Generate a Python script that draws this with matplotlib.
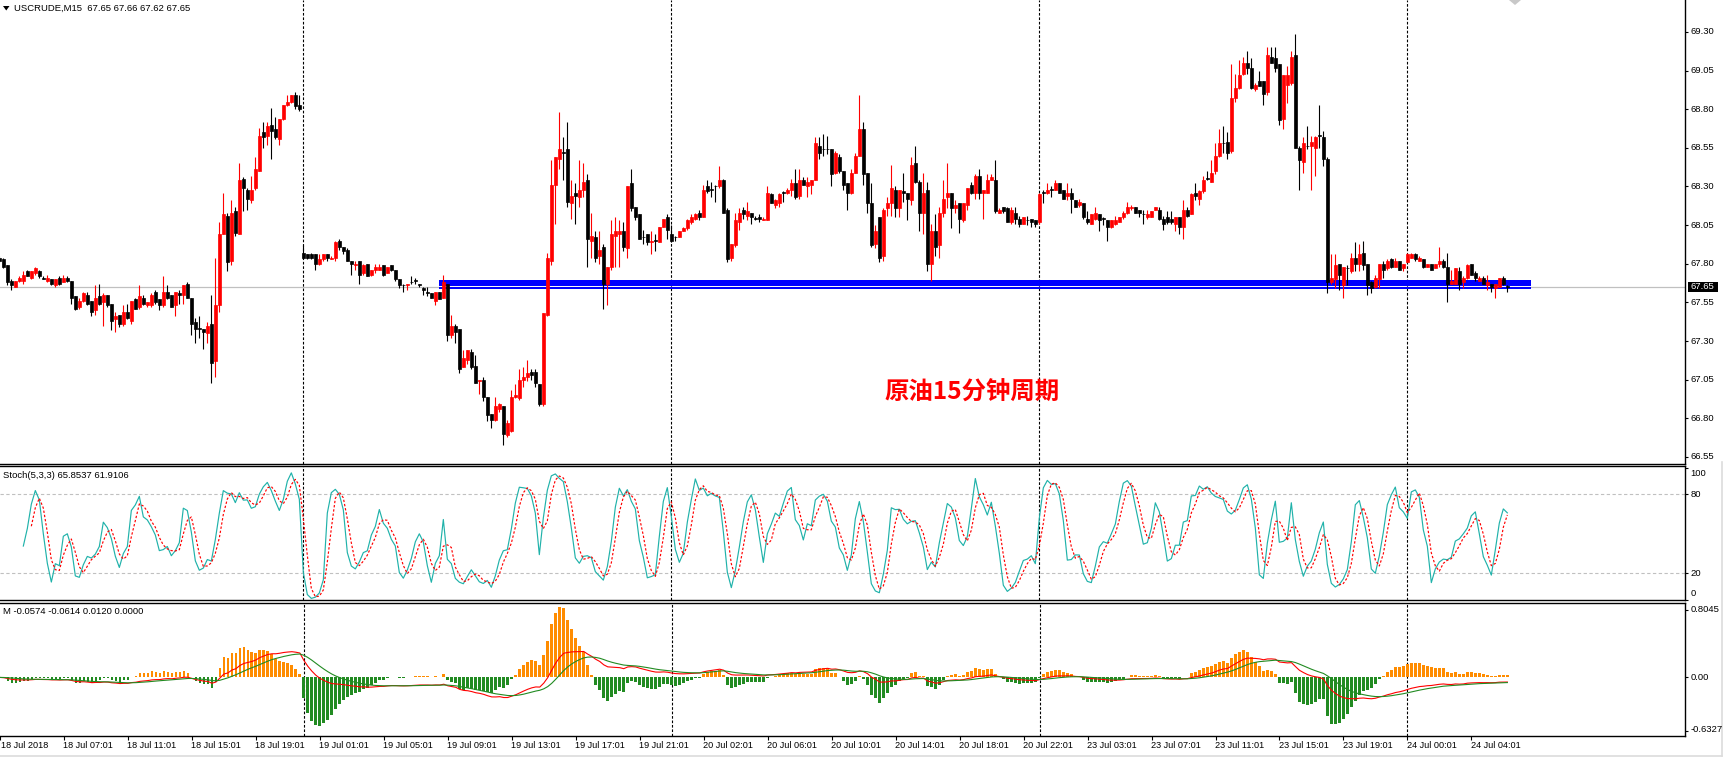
import numpy as np
import matplotlib
matplotlib.use("Agg")
import matplotlib.pyplot as plt
from matplotlib.patches import Polygon, Rectangle
from matplotlib.lines import Line2D

plt.rcParams['font.family'] = ['Liberation Sans', 'DejaVu Sans']

# ---------------- data (USCRUDE M15 candles) ----------------
opens = [67.84,67.83,67.79,67.69,67.65,67.69,67.69,67.75,67.71,67.74,67.75,67.71,67.69,67.70,67.66,67.71,67.68,67.71,67.69,67.59,
67.52,67.56,67.60,67.56,67.50,67.59,67.55,67.60,67.54,67.44,67.47,67.41,67.49,67.43,67.57,67.52,67.58,67.53,67.53,67.62,
67.57,67.53,67.62,67.60,67.53,67.61,67.60,67.67,67.58,67.42,67.38,67.38,67.35,67.41,67.17,67.53,67.99,68.11,67.82,68.14,
67.99,68.35,68.28,68.21,68.29,68.40,68.65,68.63,68.70,68.67,68.61,68.74,68.83,68.85,68.89,68.83,67.87,67.86,67.86,67.86,
67.80,67.83,67.86,67.83,67.84,67.95,67.91,67.89,67.82,67.79,67.82,67.74,67.80,67.73,67.76,67.76,67.79,67.74,67.79,67.76,
67.70,67.66,67.66,67.68,67.69,67.67,67.64,67.62,67.61,67.56,67.62,67.58,67.67,67.34,67.40,67.38,67.13,67.18,67.23,67.14,
67.04,67.05,66.94,66.83,66.79,66.86,66.88,66.69,66.72,66.94,66.93,67.05,67.07,67.10,67.10,67.02,66.89,67.47,67.82,68.31,
68.48,68.52,68.54,68.19,68.26,68.23,68.28,68.34,67.95,67.97,67.85,67.91,67.67,67.78,67.98,67.99,68.01,67.90,68.32,68.17,
68.12,67.97,67.99,67.94,67.95,67.94,68.04,68.10,67.99,67.97,67.97,68.01,68.03,68.07,68.09,68.13,68.10,68.30,68.28,68.30,
68.30,68.34,68.15,67.84,67.92,68.07,68.15,68.11,68.13,68.09,68.10,68.08,68.08,68.25,68.18,68.19,68.26,68.26,68.28,68.32,
68.24,68.34,68.30,68.31,68.34,68.56,68.54,68.54,68.54,68.39,68.49,68.40,68.32,68.26,68.39,68.50,68.67,68.39,68.19,67.93,
68.10,67.85,68.16,68.19,68.28,68.16,68.27,68.26,68.21,68.45,68.33,68.13,68.28,67.80,68.01,67.92,68.13,68.23,68.26,68.16,
68.19,68.08,68.18,68.31,68.26,68.37,68.26,68.26,68.34,68.34,68.13,68.17,68.16,68.07,68.13,68.09,68.06,68.08,68.09,68.08,
68.07,68.26,68.26,68.28,68.28,68.32,68.28,68.24,68.26,68.21,68.18,68.19,68.09,68.06,68.09,68.12,68.09,68.08,68.04,68.06,
68.07,68.10,68.13,68.16,68.17,68.15,68.12,68.10,68.10,68.15,68.15,68.09,68.10,68.09,68.06,68.10,68.04,68.15,68.12,68.26,
68.22,68.27,68.35,68.33,68.40,68.50,68.58,68.59,68.53,68.87,68.94,69.03,69.10,69.07,68.93,68.98,68.98,68.91,69.14,69.13,
69.09,68.74,68.96,68.97,69.15,68.55,68.46,68.56,68.56,68.55,68.63,68.62,68.48,67.68,67.70,67.80,67.66,67.77,67.75,67.84,
67.80,67.87,67.80,67.68,67.65,67.70,67.80,67.77,67.83,67.78,67.82,67.77,67.81,67.84,67.86,67.82,67.83,67.78,67.80,67.77,
67.80,67.82,67.78,67.67,67.67,67.75,67.68,67.71,67.80,67.74,67.69,67.71,67.66,67.67,67.64,67.65,67.71,67.65]

highs = [67.85,67.84,67.79,67.70,67.69,67.72,67.75,67.76,67.75,67.78,67.76,67.72,67.73,67.70,67.70,67.72,67.73,67.72,67.69,67.59,
67.58,67.62,67.62,67.56,67.66,67.67,67.61,67.60,67.54,67.49,67.47,67.53,67.54,67.56,67.58,67.66,67.60,67.55,67.61,67.63,
67.57,67.72,67.66,67.60,67.62,67.63,67.66,67.68,67.58,67.45,67.46,67.38,67.42,67.60,67.84,68.07,68.26,68.13,68.21,68.17,
68.45,68.36,68.29,68.37,68.49,68.68,68.72,68.72,68.81,68.75,68.74,68.83,68.89,68.89,68.91,68.89,67.92,67.86,67.87,67.86,
67.86,67.86,67.86,67.85,67.95,67.96,67.91,67.90,67.82,67.82,67.82,67.80,67.80,67.76,67.80,67.80,67.79,67.78,67.79,67.76,
67.70,67.67,67.67,67.72,67.71,67.67,67.65,67.65,67.61,67.62,67.62,67.73,67.67,67.47,67.41,67.38,67.24,67.24,67.25,67.21,
67.05,67.07,66.94,66.83,66.94,66.90,66.88,66.79,66.98,67.02,67.12,67.13,67.18,67.12,67.12,67.02,67.48,67.87,68.47,68.49,
68.78,68.62,68.72,68.34,68.32,68.47,68.45,68.38,68.13,68.01,68.01,67.93,67.78,68.08,68.10,68.08,68.07,68.30,68.41,68.17,
68.12,68.02,67.99,68.01,67.99,68.04,68.09,68.12,68.05,67.98,68.01,68.04,68.09,68.12,68.13,68.15,68.31,68.34,68.33,68.31,
68.43,68.35,68.16,67.93,68.13,68.16,68.17,68.20,68.13,68.11,68.12,68.10,68.30,68.26,68.22,68.26,68.27,68.29,68.35,68.41,
68.41,68.36,68.36,68.34,68.62,68.62,68.64,68.63,68.54,68.53,68.51,68.40,68.32,68.41,68.52,68.89,68.72,68.39,68.32,68.05,
68.10,68.16,68.23,68.44,68.30,68.28,68.39,68.26,68.49,68.56,68.34,68.39,68.33,68.06,68.12,68.17,68.34,68.45,68.26,68.21,
68.19,68.19,68.29,68.33,68.38,68.41,68.28,68.38,68.38,68.47,68.16,68.17,68.17,68.17,68.17,68.11,68.10,68.11,68.09,68.08,
68.26,68.28,68.32,68.30,68.34,68.32,68.28,68.32,68.29,68.21,68.22,68.19,68.14,68.12,68.17,68.12,68.10,68.08,68.08,68.11,
68.10,68.14,68.20,68.18,68.17,68.15,68.15,68.15,68.14,68.17,68.17,68.11,68.14,68.14,68.10,68.10,68.21,68.17,68.26,68.32,
68.28,68.37,68.40,68.47,68.58,68.67,68.69,68.65,69.09,69.03,69.12,69.14,69.18,69.13,68.97,69.05,68.98,69.20,69.20,69.20,
69.09,69.02,69.08,69.18,69.29,68.56,68.62,68.69,68.63,68.63,68.83,68.66,68.49,67.86,67.86,67.80,67.78,67.79,67.87,67.94,
67.93,67.95,67.80,67.69,67.73,67.80,67.82,67.83,67.84,67.84,67.82,67.80,67.87,67.87,67.87,67.85,67.83,67.80,67.80,67.80,
67.91,67.83,67.87,67.76,67.77,67.78,67.72,67.80,67.80,67.75,67.72,67.72,67.73,67.67,67.67,67.71,67.72,67.66]

lows = [67.81,67.77,67.66,67.63,67.65,67.68,67.67,67.72,67.70,67.73,67.71,67.70,67.68,67.66,67.65,67.66,67.68,67.68,67.54,67.50,
67.51,67.55,67.53,67.46,67.47,67.53,67.40,67.52,67.37,67.36,67.39,67.40,67.44,67.41,67.51,67.51,67.53,67.52,67.52,67.54,
67.50,67.52,67.57,67.52,67.46,67.54,67.54,67.58,67.34,67.29,67.32,67.25,67.29,67.03,67.07,67.49,67.99,67.75,67.79,67.98,
67.99,68.14,68.15,68.19,68.28,68.40,68.55,68.57,68.48,68.61,68.57,68.73,68.82,68.84,68.80,68.79,67.83,67.83,67.83,67.76,
67.79,67.82,67.82,67.83,67.82,67.89,67.86,67.82,67.73,67.76,67.67,67.73,67.72,67.72,67.74,67.76,67.72,67.74,67.75,67.69,
67.64,67.62,67.63,67.67,67.67,67.65,67.60,67.59,67.58,67.53,67.57,67.58,67.30,67.32,67.29,67.09,67.13,67.15,67.12,67.03,
66.96,66.91,66.78,66.74,66.78,66.84,66.63,66.68,66.71,66.93,66.92,67.00,67.04,67.05,67.00,66.88,66.88,67.46,67.79,68.06,
68.41,68.34,68.17,68.09,68.06,68.17,68.23,67.78,67.84,67.81,67.80,67.51,67.53,67.76,67.78,67.78,67.88,67.84,68.14,68.08,
67.96,67.93,67.92,67.86,67.88,67.94,68.04,67.96,67.94,67.95,67.97,68.01,68.02,68.06,68.08,68.08,68.10,68.26,68.23,68.20,
68.29,68.13,67.81,67.82,67.91,68.02,68.09,68.08,68.06,68.08,68.07,68.08,68.08,68.19,68.16,68.17,68.20,68.25,68.24,68.22,
68.22,68.31,68.23,68.25,68.34,68.48,68.50,68.51,68.30,68.38,68.39,68.28,68.15,68.25,68.39,68.50,68.31,68.13,67.91,67.90,
67.81,67.82,68.11,68.11,68.10,68.10,68.20,68.08,68.18,68.32,68.01,67.99,67.75,67.69,67.85,67.84,68.10,68.16,68.03,68.13,
68.00,68.07,68.15,68.25,68.22,68.22,68.09,68.26,68.34,68.13,68.13,68.13,68.07,68.06,68.06,68.04,68.06,68.05,68.04,68.04,
68.06,68.19,68.25,68.23,68.28,68.26,68.22,68.21,68.13,68.17,68.17,68.09,68.06,68.06,68.08,68.01,68.05,67.95,68.03,68.05,
68.07,68.09,68.12,68.15,68.13,68.10,68.06,68.09,68.10,68.15,68.08,68.02,68.06,68.06,68.01,67.99,67.96,68.10,68.12,68.21,
68.18,68.26,68.34,68.33,68.38,68.49,68.52,68.48,68.52,68.85,68.93,69.02,69.03,68.93,68.92,68.95,68.83,68.89,69.10,69.04,
68.70,68.67,68.84,68.96,68.55,68.28,68.39,68.54,68.28,68.37,68.55,68.43,67.61,67.67,67.64,67.63,67.58,67.66,67.74,67.75,
67.75,67.76,67.60,67.61,67.64,67.64,67.71,67.76,67.77,67.78,67.76,67.75,67.81,67.84,67.82,67.82,67.77,67.78,67.76,67.77,
67.78,67.77,67.55,67.67,67.67,67.63,67.64,67.70,67.73,67.69,67.69,67.67,67.63,67.62,67.58,67.65,67.66,67.62]

closes = [67.82,67.78,67.68,67.66,67.69,67.71,67.73,67.72,67.75,67.77,67.72,67.70,67.71,67.67,67.70,67.67,67.71,67.69,67.58,67.51,
67.56,67.61,67.54,67.49,67.58,67.54,67.60,67.53,67.43,67.46,67.41,67.49,67.45,67.56,67.51,67.59,67.54,67.55,67.60,67.55,
67.53,67.62,67.58,67.52,67.62,67.60,67.66,67.58,67.41,67.38,67.38,67.36,67.40,67.16,67.53,67.99,68.12,67.81,68.13,68.00,
68.34,68.29,68.22,68.28,68.41,68.63,68.62,68.69,68.66,68.62,68.74,68.83,68.85,68.89,68.82,68.80,67.84,67.84,67.84,67.80,
67.83,67.86,67.84,67.84,67.94,67.91,67.88,67.82,67.80,67.80,67.73,67.79,67.72,67.76,67.78,67.78,67.73,67.78,67.76,67.70,
67.66,67.66,67.67,67.68,67.69,67.66,67.63,67.61,67.58,67.62,67.57,67.68,67.34,67.40,67.36,67.12,67.19,67.24,67.13,67.03,
67.05,66.94,66.82,66.79,66.88,66.89,66.70,66.77,66.94,66.95,67.05,67.07,67.09,67.08,67.03,66.89,67.48,67.84,68.31,68.49,
68.54,68.52,68.20,68.24,68.24,68.28,68.33,67.96,67.98,67.84,67.89,67.67,67.78,67.99,68.01,68.01,67.91,68.30,68.16,68.10,
67.96,67.97,67.94,67.95,67.95,68.04,68.09,68.02,67.95,67.97,68.01,68.03,68.08,68.10,68.12,68.10,68.28,68.27,68.28,68.30,
68.34,68.13,67.83,67.93,68.08,68.13,68.12,68.14,68.10,68.09,68.09,68.09,68.26,68.19,68.21,68.25,68.26,68.28,68.32,68.23,
68.34,68.31,68.33,68.34,68.58,68.52,68.54,68.54,68.38,68.52,68.40,68.31,68.26,68.39,68.50,68.67,68.38,68.19,67.92,68.01,
67.84,68.15,68.19,68.29,68.16,68.28,68.26,68.22,68.44,68.33,68.13,68.26,67.80,68.01,67.91,68.13,68.22,68.26,68.16,68.18,
68.09,68.19,68.29,68.26,68.37,68.26,68.28,68.34,68.36,68.14,68.15,68.14,68.07,68.15,68.09,68.06,68.10,68.08,68.07,68.06,
68.25,68.26,68.28,68.28,68.32,68.26,68.22,68.26,68.22,68.17,68.20,68.10,68.07,68.12,68.13,68.08,68.09,68.04,68.08,68.08,
68.10,68.13,68.17,68.17,68.13,68.13,68.12,68.12,68.14,68.17,68.09,68.06,68.07,68.07,68.10,68.04,68.15,68.11,68.25,68.24,
68.27,68.34,68.35,68.39,68.50,68.58,68.58,68.52,68.87,68.94,69.02,69.10,69.07,68.94,68.96,68.95,68.90,69.15,69.10,69.07,
68.73,69.02,69.02,69.14,68.55,68.47,68.58,68.56,68.59,68.62,68.63,68.48,67.68,67.71,67.79,67.73,67.78,67.77,67.84,67.80,
67.86,67.79,67.66,67.64,67.71,67.80,67.76,67.82,67.78,67.82,67.76,67.80,67.86,67.86,67.83,67.84,67.78,67.80,67.76,67.80,
67.82,67.78,67.67,67.69,67.77,67.67,67.71,67.79,67.73,67.71,67.71,67.67,67.68,67.65,67.67,67.71,67.67,67.65]

price_ticks = [69.30, 69.05, 68.80, 68.55, 68.30, 68.05, 67.80, 67.55, 67.30, 67.05, 66.80, 66.55]
time_labels = ["18 Jul 2018", "18 Jul 07:01", "18 Jul 11:01", "18 Jul 15:01", "18 Jul 19:01",
               "19 Jul 01:01", "19 Jul 05:01", "19 Jul 09:01", "19 Jul 13:01", "19 Jul 17:01",
               "19 Jul 21:01", "20 Jul 02:01", "20 Jul 06:01", "20 Jul 10:01", "20 Jul 14:01",
               "20 Jul 18:01", "20 Jul 22:01", "23 Jul 03:01", "23 Jul 07:01", "23 Jul 11:01",
               "23 Jul 15:01", "23 Jul 19:01", "24 Jul 00:01", "24 Jul 04:01"]
label_every = 16
day_separators = [76, 168, 260, 352]
current_price = 67.65
zone_thick = (67.658, 67.695)
zone_thin = (67.639, 67.650)
zone_start = 110
stoch_params = (5, 3, 3)
macd_params = (12, 26, 9)
hist_scale = 4.0

O = np.array(opens); Hh = np.array(highs); Lw = np.array(lows); C = np.array(closes)
n = len(C)
idx = np.arange(n)

# ---------------- indicators ----------------
kp, dp, slow = stoch_params
LL = np.full(n, np.nan); HH = np.full(n, np.nan)
for i in range(kp - 1, n):
    LL[i] = Lw[i - kp + 1:i + 1].min()
    HH[i] = Hh[i - kp + 1:i + 1].max()
K = np.full(n, np.nan)
for i in range(kp - 1 + slow - 1, n):
    num = np.sum(C[i - slow + 1:i + 1] - LL[i - slow + 1:i + 1])
    den = np.sum(HH[i - slow + 1:i + 1] - LL[i - slow + 1:i + 1])
    K[i] = 100.0 * num / den if den > 0 else 100.0
D = np.full(n, np.nan)
for i in range(n):
    w = K[max(0, i - dp + 1):i + 1]
    if len(w) == dp and not np.isnan(w).any():
        D[i] = w.mean()

def ema(x, p):
    a = 2.0 / (p + 1)
    out = np.empty_like(x)
    out[0] = x[0]
    for i in range(1, len(x)):
        out[i] = a * x[i] + (1 - a) * out[i - 1]
    return out

f_, s_, g_ = macd_params
DIF = ema(C, f_) - ema(C, s_)
DEA = ema(DIF, g_)
HIST = hist_scale * (DIF - DEA)

# ---------------- figure ----------------
W, Hpx = 1726, 759
fig = plt.figure(figsize=(W / 100, Hpx / 100), dpi=100)
fig.patch.set_facecolor('white')

def rect(x0, y0, x1, y1):
    return [x0 / W, 1 - y1 / Hpx, (x1 - x0) / W, (y1 - y0) / Hpx]

def ftxt(x, y, s, **kw):
    return fig.text(x / W, 1 - y / Hpx, s, **kw)

XL = (0.1675, 421.42)
ax1 = fig.add_axes(rect(0, 0, 1685, 464))
ax2 = fig.add_axes(rect(0, 466, 1685, 600))
ax3 = fig.add_axes(rect(0, 603, 1685, 736))

for ax in (ax1, ax2, ax3):
    ax.set_xlim(*XL)
    ax.set_facecolor('white')
    ax.spines['left'].set_visible(False)
    for s in ax.spines.values():
        s.set_linewidth(1.0)
        s.set_color('black')
    ax.yaxis.tick_right()
    ax.tick_params(axis='y', which='both', direction='out', length=2.5, width=0.8,
                   labelright=False, labelleft=False, right=True, left=False)
    ax.tick_params(axis='x', which='both', bottom=False, labelbottom=False)
    for d in day_separators:
        ax.axvline(d, color='black', lw=0.8, ls=(0, (2.4, 1.6)), zorder=1)
ax1.spines['top'].set_visible(False)

# main candle panel
ax1.set_ylim(66.504, 69.507)
ax1.set_yticks(price_ticks)
ax1.axhline(current_price, color='#C0C0C0', lw=0.9, zorder=1)
ax1.add_patch(Rectangle((zone_start, zone_thick[0]), 383 - zone_start, zone_thick[1] - zone_thick[0],
                        facecolor='#0000FF', edgecolor='none', zorder=2))
ax1.add_patch(Rectangle((zone_start, zone_thin[0]), 383 - zone_start, zone_thin[1] - zone_thin[0],
                        facecolor='#0000FF', edgecolor='none', zorder=2))

up = C > O
cols = np.where(up, '#FF0000', '#000000')
ax1.vlines(idx, Lw, Hh, colors=cols, lw=0.8, zorder=3)
body_lo = np.minimum(O, C)
body_h = np.maximum(np.abs(C - O), 0.004)
ax1.bar(idx, body_h, bottom=body_lo, width=0.62, color=cols, edgecolor=cols, linewidth=0.5, zorder=4)

ftxt(972, 393, "原油15分钟周期", color='#FF0000', fontsize=17.6, fontweight='bold',
     family=['Noto Sans CJK SC', 'DejaVu Sans'], ha='center', va='center')

# title
fig.add_artist(Polygon([[3 / W, 1 - 6 / Hpx], [9.5 / W, 1 - 6 / Hpx], [6.25 / W, 1 - 10.5 / Hpx]],
                       closed=True, transform=fig.transFigure, facecolor='black', edgecolor='none'))
ftxt(14, 8.5, "USCRUDE,M15  67.65 67.66 67.62 67.65", fontsize=6.8, ha='left', va='center', color='black')
fig.add_artist(Polygon([[1509 / W, 1.0], [1521 / W, 1.0], [1515 / W, 1 - 5 / Hpx]],
                       closed=True, transform=fig.transFigure, facecolor='#C8C8C8', edgecolor='none'))

# price axis labels
for p in price_ticks:
    y = 32 + (69.30 - p) * 154.5
    ftxt(1690.5, y, f"{p:.2f}", fontsize=6.8, ha='left', va='center', color='black')
ybox = 32 + (69.30 - current_price) * 154.5
fig.add_artist(Rectangle((1687.5 / W, 1 - (ybox + 5.2) / Hpx), 30.5 / W, 10.4 / Hpx,
                         transform=fig.transFigure, facecolor='black', edgecolor='none'))
ftxt(1702.7, ybox, f"{current_price:.2f}", fontsize=6.8, ha='center', va='center', color='white')

# stochastic panel
ax2.set_ylim(-0.3, 101.5)
ax2.set_yticks([0, 20, 80, 100])
for lvl in (20, 80):
    ax2.axhline(lvl, color='#C0C0C0', lw=0.8, ls=(0, (3, 2.2)), zorder=1)
ax2.plot(idx, K, color='#20B2AA', lw=0.85, zorder=3)
ax2.plot(idx, D, color='#FF0000', lw=0.85, ls=(0, (2, 1.6)), zorder=3)
ftxt(3, 475.5, "Stoch(5,3,3) 65.8537 61.9106", fontsize=6.8, ha='left', va='center')
for s, y in (("100", 473.6), ("80", 494.3), ("20", 573.3), ("0", 593.3)):
    ftxt(1690.5, y, s, fontsize=6.8, ha='left', va='center')

# MACD panel
ax3.set_ylim(-0.697, 0.886)
ax3.set_yticks([0.8045, 0.0, -0.6327])
pos = np.where(HIST >= 0, HIST, 0)
neg = np.where(HIST < 0, HIST, 0)
ax3.bar(idx, pos, width=0.7, color='#FF8C00', linewidth=0, zorder=2)
ax3.bar(idx, neg, width=0.7, color='#228B22', linewidth=0, zorder=2)
ax3.plot(idx, DIF, color='#FF0000', lw=0.8, zorder=3)
ax3.plot(idx, DEA, color='#228B22', lw=0.8, zorder=3)
ftxt(3, 611, "M -0.0574 -0.0614 0.0120 0.0000", fontsize=6.8, ha='left', va='center')
for s, y in (("0.8045", 609), ("0.00", 677.3), ("-0.6327", 729.3)):
    ftxt(1690.5, y, s, fontsize=6.8, ha='left', va='center')

tick_pos = [label_every * k for k in range(len(time_labels))]
ax3.set_xticks(tick_pos)
ax3.tick_params(axis='x', which='both', bottom=True, direction='out', length=3, width=0.8, labelbottom=False)
for k, lab in enumerate(time_labels):
    xpx = 4 * tick_pos[k] - 0.67
    ftxt(max(xpx - 0.5, 0.5), 745.5, lab, fontsize=6.6, ha='left', va='center')

# light frame
fig.add_artist(Line2D([0, 1722 / W], [1 - 756 / Hpx] * 2, transform=fig.transFigure, color='#DCDCDC', lw=1.2))
fig.add_artist(Line2D([1722 / W] * 2, [1 - 756 / Hpx, 1 - 462 / Hpx], transform=fig.transFigure, color='#DCDCDC', lw=1.2))

fig.savefig("out.png", dpi=100, facecolor='white')
